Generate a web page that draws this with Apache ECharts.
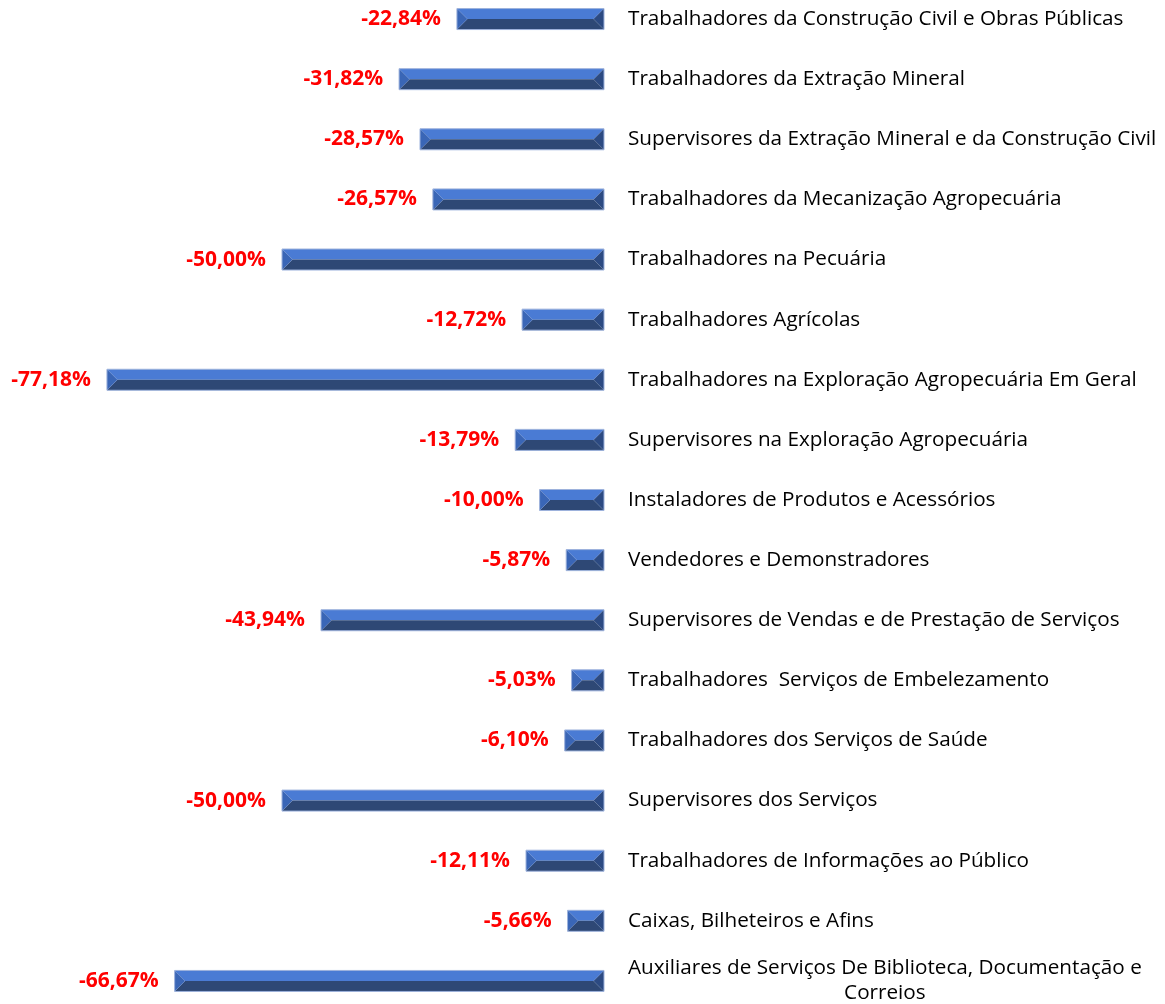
<!DOCTYPE html>
<html><head><meta charset="utf-8">
<script src="https://cdn.jsdelivr.net/npm/echarts@6/dist/echarts.min.js"></script>
<style>html,body{margin:0;padding:0;background:#fff;overflow:hidden}#c{width:1165px;height:1034px;margin-top:-11px}</style>
</head><body><div id="c"></div>
<script>
const categories = [
  'Trabalhadores da Construção Civil e Obras Públicas',
  'Trabalhadores da Extração Mineral',
  'Supervisores da Extração Mineral e da Construção Civil',
  'Trabalhadores da Mecanização Agropecuária',
  'Trabalhadores na Pecuária',
  'Trabalhadores Agrícolas',
  'Trabalhadores na Exploração Agropecuária Em Geral',
  'Supervisores na Exploração Agropecuária',
  'Instaladores de Produtos e Acessórios',
  'Vendedores e Demonstradores',
  'Supervisores de Vendas e de Prestação de Serviços',
  'Trabalhadores  Serviços de Embelezamento',
  'Trabalhadores dos Serviços de Saúde',
  'Supervisores dos Serviços',
  'Trabalhadores de Informações ao Público',
  'Caixas, Bilheteiros e Afins',
  'Auxiliares de Serviços De Biblioteca, Documentação e\nCorreios'
];
const values = [-22.84, -31.82, -28.57, -26.57, -50.00, -12.72, -77.18, -13.79, -10.00, -5.87, -43.94, -5.03, -6.10, -50.00, -12.11, -5.66, -66.67];

function fmt(v){ return v.toFixed(2).replace('.', ',') + '%'; }

function renderItem(params, api){
  const v = api.value(0), i = api.value(1);
  const p0 = api.coord([v, i]);
  const p1 = api.coord([0, i]);
  const h = 21;
  const x0 = p0[0], x1 = p1[0], ym = p0[1], y0 = ym - h/2, y1 = ym + h/2;
  const b = Math.min(h/2, (x1 - x0)/2);
  return {type:'group', children:[
    {type:'polygon', shape:{points:[[x0,y0],[x1,y0],[x1-b,ym],[x0+b,ym]]}, style:{fill:'#4A7BD4'}},
    {type:'polygon', shape:{points:[[x0+b,ym],[x1-b,ym],[x1,y1],[x0,y1]]}, style:{fill:'#2E4875'}},
    {type:'polygon', shape:{points:[[x0,y0],[x0+b,ym],[x0,y1]]}, style:{fill:'#3A66B6'}},
    {type:'polygon', shape:{points:[[x1,y0],[x1-b,ym],[x1,y1]]}, style:{fill:'#2C4A82'}},
    {type:'rect', shape:{x:x0, y:y0, width:x1-x0, height:h}, style:{fill:null, stroke:'#9DB2DC', lineWidth:1}},
    {type:'text', style:{text: fmt(v), x: x0 - 16, y: ym, align:'right', verticalAlign:'middle', fill:'#FF0000', font:'bold 21px "Open Sans"'}}
  ]};
}

const chart = echarts.init(document.getElementById('c'));
chart.setOption({
  animation:false,
  grid:{left: 604 - 80*6.44, width: 80*6.44, top: 0, height: 1022},
  xAxis:{type:'value', min:-80, max:0, show:false},
  yAxis:{type:'category', data: categories, inverse:true, position:'right',
    axisLine:{show:false}, axisTick:{show:false}, splitLine:{show:false},
    axisLabel:{margin:24, align:'left', color:'#000', fontFamily:'Open Sans', fontSize:20.7,
      formatter: function(v){
        if (v.indexOf('\n') >= 0) { return v.split('\n').map(s => '{c|' + s + '}').join('\n'); }
        return v;
      },
      rich:{c:{align:'center', fontFamily:'Open Sans', fontSize:20.7, color:'#000', lineHeight:25}}
    }},
  series:[{type:'custom', renderItem: renderItem, data: values.map((v,i)=>[v,i])}]
});
</script></body></html>
